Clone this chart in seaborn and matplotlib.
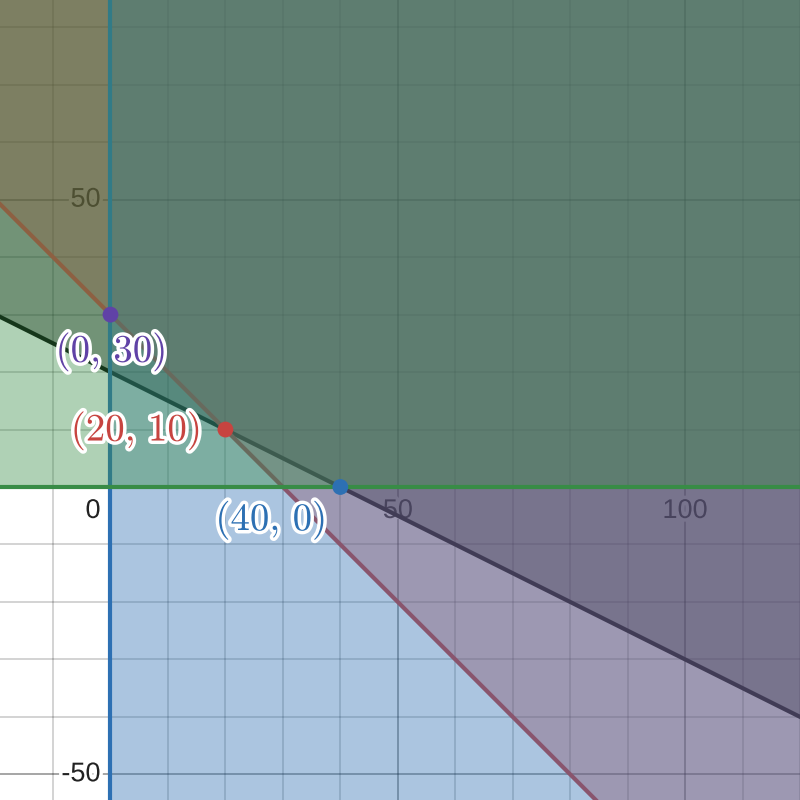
import numpy as np
import pandas as pd
import matplotlib
matplotlib.use("Agg")
import matplotlib.pyplot as plt
import matplotlib.patheffects as pe
import seaborn as sns

# ---------------- data ----------------
# inequalities  a*x + b*y >= c  (drawn in this order)
ineq_a = [1, 1, 1, 0]
ineq_b = [2, 1, 0, 1]
ineq_c = [40, 30, 0, 0]
ineq_colors = ["#000000", "#c74440", "#2d70b3", "#388c46"]

# labelled points
pt_x = [0, 20, 40]
pt_y = [30, 10, 0]
pt_labels = [r"$(0,\,30)$", r"$(20,\,10)$", r"$(40,\,0)$"]
pt_colors = ["#6042a6", "#c74440", "#2d70b3"]
pt_label_offset_px = [(0, -37), (-90, -1), (-70, -33)]

# axis tick labels
xtick_vals = [50, 100]
ytick_vals = [50, -50]
origin_label = "0"

XLIM = (-19.23, 120.0)
YLIM = (-54.47, 84.75)

# ---------------- figure ----------------
sns.set_theme(style="white")
plt.rcParams["font.family"] = ["Liberation Sans", "DejaVu Sans"]
plt.rcParams["mathtext.fontset"] = "cm"

fig = plt.figure(figsize=(8, 8), dpi=100)
ax = fig.add_axes([0, 0, 1, 1])
ax.set_xlim(*XLIM)
ax.set_ylim(*YLIM)
for s in ax.spines.values():
    s.set_visible(False)

# grid
ax.set_xticks(np.arange(-50, 151, 50))
ax.set_yticks(np.arange(-100, 101, 50))
ax.set_xticks(np.arange(-20, 121, 10), minor=True)
ax.set_yticks(np.arange(-60, 91, 10), minor=True)
ax.tick_params(which="both", length=0, labelbottom=False, labelleft=False)
ax.grid(True, which="major", color="black", alpha=0.38, linewidth=1.3, zorder=0.5)
ax.grid(True, which="minor", color="black", alpha=0.2, linewidth=1.2, zorder=0.4)
ax.set_axisbelow(True)

halo = [pe.withStroke(linewidth=5, foreground="white")]
px = 0.72  # points per pixel
tick_fs = 19.5
for v in xtick_vals:
    ax.annotate(str(v), (v, 0), xytext=(0, -11 * px), textcoords="offset points",
                ha="center", va="top", fontsize=tick_fs, color="#222222",
                path_effects=halo, zorder=1)
for v in ytick_vals:
    ax.annotate(str(v), (0, v), xytext=(-10 * px, 0), textcoords="offset points",
                ha="right", va="center", fontsize=tick_fs, color="#222222",
                path_effects=halo, zorder=1)
ax.annotate(origin_label, (0, 0), xytext=(-10 * px, -11 * px), textcoords="offset points",
            ha="right", va="top", fontsize=tick_fs, color="#222222",
            path_effects=halo, zorder=1)

# inequalities: fill then boundary line
ext_x = np.array([XLIM[0] - 5, XLIM[1] + 5])
ext_y = np.array([YLIM[0] - 5, YLIM[1] + 5])
for i, (a, b, c, col) in enumerate(zip(ineq_a, ineq_b, ineq_c, ineq_colors)):
    z = 2 + i
    if b != 0:
        y_line = (c - a * ext_x) / b
        ax.fill_between(ext_x, y_line, ext_y[1], color=col, alpha=0.4,
                        linewidth=0, zorder=z)
        df = pd.DataFrame({"x": ext_x, "y": y_line})
    else:
        x0 = c / a
        ax.fill_betweenx(ext_y, x0, ext_x[1], color=col, alpha=0.4,
                         linewidth=0, zorder=z)
        df = pd.DataFrame({"x": [x0, x0], "y": ext_y})
    sns.lineplot(data=df, x="x", y="y", estimator=None, sort=False,
                 color=col, linewidth=3, ax=ax, zorder=z + 0.5)

# points
pts = pd.DataFrame({"x": pt_x, "y": pt_y, "label": pt_labels})
sns.scatterplot(data=pts, x="x", y="y", hue="label", palette=pt_colors,
                s=130, linewidth=0, legend=False, ax=ax, zorder=10)
for x, y, lab, col, (dx, dy) in zip(pt_x, pt_y, pt_labels, pt_colors, pt_label_offset_px):
    ax.annotate(lab, (x, y), xytext=(dx * px, dy * px), textcoords="offset points",
                ha="center", va="center", fontsize=28, color=col,
                path_effects=[pe.withStroke(linewidth=5, foreground="white")],
                zorder=11)

ax.set_xlim(*XLIM)
ax.set_ylim(*YLIM)
ax.set_xlabel("")
ax.set_ylabel("")
fig.savefig("out.png", dpi=100)
